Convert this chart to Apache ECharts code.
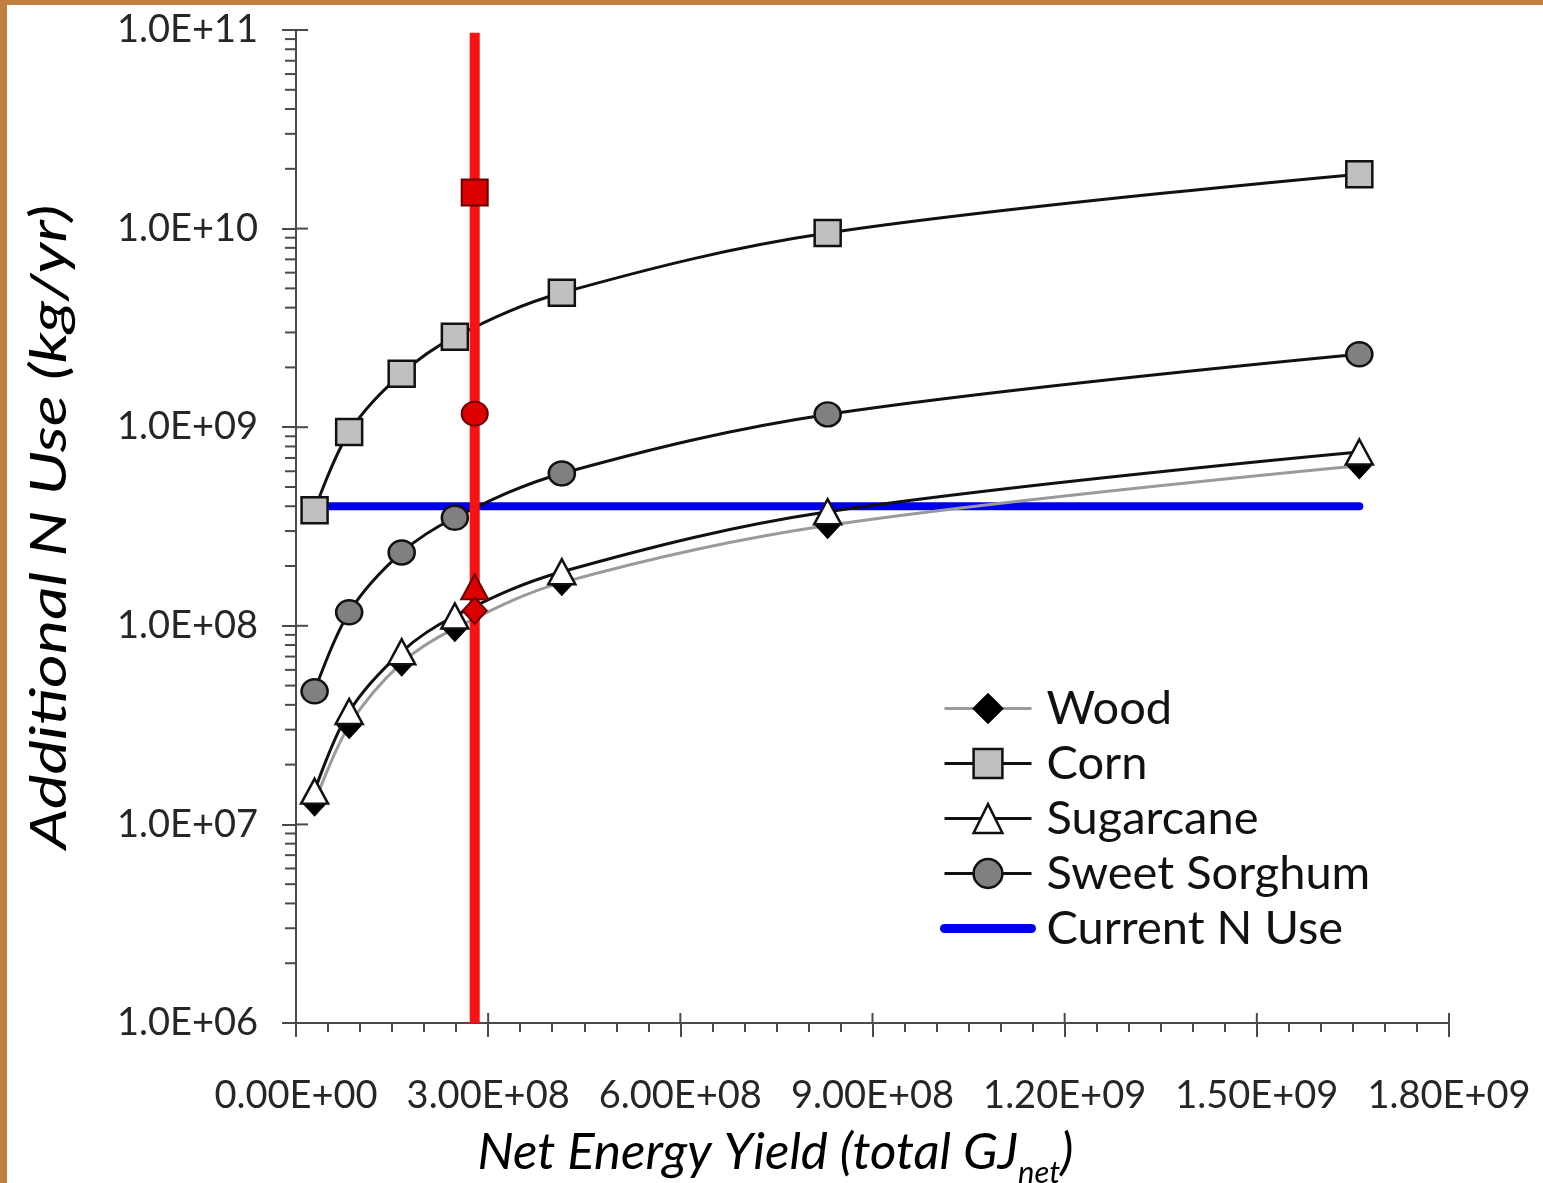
<!DOCTYPE html>
<html>
<head>
<meta charset="utf-8">
<title>Additional N Use vs Net Energy Yield</title>
<script src="https://cdn.jsdelivr.net/npm/echarts@6/dist/echarts.min.js"></script>
<style>
  html, body { margin: 0; padding: 0; background: #ffffff; }
  #wrap { position: relative; width: 1543px; height: 1183px; overflow: hidden; }
  #chart { position: absolute; left: 0; top: 0; width: 1543px; height: 1183px; }
  .edge-top { position: absolute; left: 0; top: 0; width: 1543px; height: 5px; background: #c17f3f; }
  .edge-left { position: absolute; left: 0; top: 0; width: 7px; height: 1183px; background: #c17f3f; }
</style>
</head>
<body>
<div id="wrap">
  <div id="chart"></div>
  <div class="edge-top"></div>
  <div class="edge-left"></div>
</div>
<script>
// Net energy yield (GJ_net) for each scenario point
const netEnergy = [2.9e7, 8.3e7, 1.65e8, 2.48e8, 4.15e8, 8.3e8, 1.66e9];

// Additional nitrogen use (kg/yr) per feedstock
const wood      = [1.28e7, 3.15e7, 6.5e7, 9.7e7, 1.65e8, 3.2e8, 6.4e8];
const corn      = [3.82e8, 9.45e8, 1.86e9, 2.85e9, 4.75e9, 9.5e9, 1.88e10];
const sugarcane = [1.47e7, 3.7e7, 7.4e7, 1.12e8, 1.87e8, 3.75e8, 7.5e8];
const sorghum   = [4.68e7, 1.17e8, 2.34e8, 3.5e8, 5.85e8, 1.16e9, 2.33e9];

// Current national N use (horizontal reference) and its x extent
const currentNUse = 4.0e8;
const currentNRange = [2.9e7, 1.66e9];

// Highlighted scenario (vertical red line) and its feedstock values
const highlightX = 2.79e8;
const highlightSpan = [1e6, 9.7e10];
const highlightWood = 1.19e8;
const highlightCorn = 1.52e10;
const highlightSugarcane = 1.57e8;
const highlightSorghum = 1.17e9;

// Axis tick values
const xTicks = [0, 3e8, 6e8, 9e8, 1.2e9, 1.5e9, 1.8e9];
const yDecades = [1e6, 1e7, 1e8, 1e9, 1e10, 1e11];

const FONT = 'Lato';
const AXIS_COLOR = '#4a4a4a';

function pairs(xs, ys) { return xs.map((x, i) => [x, ys[i]]); }

// Minor log ticks (2..9 within each decade)
const yMinor = [];
yDecades.slice(0, -1).forEach(d => {
  for (let m = 2; m <= 9; m++) yMinor.push(d * m);
});

function fmtExp(v, digits) {
  let s = Number(v).toExponential(digits).toUpperCase();
  return s.replace(/E([+-])(\d)$/, 'E$10$2');
}

const chart = echarts.init(document.getElementById('chart'), null, { renderer: 'canvas' });

const symbolBorder = { borderColor: '#111', borderWidth: 2.5 };

const option = {
  backgroundColor: '#ffffff',
  animation: false,
  grid: { left: 296, right: 94, top: 30, bottom: 160, containLabel: false, outerBoundsMode: 'none' },
  graphic: [
    {
      // vertical axis title, stretched along its length
      type: 'text',
      x: 50,
      y: 527,
      rotation: Math.PI / 2,
      scaleX: 1.3,
      silent: true,
      style: {
        text: 'Additional N Use (kg/yr)',
        fontFamily: FONT,
        fontStyle: 'italic',
        fontSize: 50,
        fill: '#000',
        align: 'center',
        verticalAlign: 'middle'
      }
    }
  ],
  xAxis: {
    type: 'value',
    min: 0,
    max: 1.8e9,
    interval: 3e8,
    splitLine: { show: false },
    axisLine: { lineStyle: { color: AXIS_COLOR, width: 2 } },
    axisTick: { show: true, length: 14, lineStyle: { color: AXIS_COLOR, width: 2 } },
    minorTick: { show: true, splitNumber: 6, length: 9, lineStyle: { color: AXIS_COLOR, width: 2 } },
    axisLabel: {
      margin: 54,
      fontFamily: FONT,
      fontSize: 38,
      color: '#262626',
      formatter: v => fmtExp(v, 2)
    },
    name: '{a|Net Energy Yield (total GJ}{s|net}{a|)}',
    nameLocation: 'middle',
    nameGap: 104,
    nameTextStyle: {
      padding: [0, 194, 0, 0],
      rich: {
        a: { fontFamily: FONT, fontStyle: 'italic', fontSize: 51, color: '#000', lineHeight: 56, verticalAlign: 'top' },
        s: { fontFamily: FONT, fontStyle: 'italic', fontSize: 31, color: '#000', lineHeight: 32, verticalAlign: 'top', padding: [30, 0, 0, 0] }
      }
    }
  },
  yAxis: {
    type: 'log',
    logBase: 10,
    min: 1e6,
    max: 1e11,
    interval: 1,
    splitLine: { show: false },
    axisLine: { lineStyle: { color: AXIS_COLOR, width: 2 } },
    axisTick: { show: true, length: 14, lineStyle: { color: AXIS_COLOR, width: 2 } },
    minorTick: { show: false },
    axisLabel: {
      margin: 38,
      fontFamily: FONT,
      fontSize: 38,
      color: '#262626',
      formatter: v => fmtExp(v, 1)
    }
  },
  legend: {
    orient: 'vertical',
    left: 940,
    top: 685,
    padding: 0,
    itemWidth: 87,
    itemHeight: 36,
    itemGap: 8,
    textStyle: { fontFamily: FONT, fontSize: 47, color: '#111', padding: [0, 0, 0, 10] },
    data: [
      { name: 'Wood', lineStyle: { width: 3, color: '#9a9a9a' }, itemStyle: { borderWidth: 2, borderColor: '#000' } },
      { name: 'Corn', lineStyle: { width: 3, color: '#111' }, itemStyle: { borderWidth: 2.5, borderColor: '#111' } },
      { name: 'Sugarcane', lineStyle: { width: 3, color: '#111' }, itemStyle: { borderWidth: 2.5, borderColor: '#111' } },
      { name: 'Sweet Sorghum', lineStyle: { width: 3, color: '#111' }, itemStyle: { borderWidth: 2.5, borderColor: '#111' } },
      { name: 'Current N Use', lineStyle: { width: 9, color: '#0000ee', cap: 'round' }, itemStyle: { opacity: 0 } }
    ]
  },
  series: [
    {
      name: 'Current N Use',
      type: 'line',
      z: 1,
      symbol: 'none',
      data: [[currentNRange[0], currentNUse], [currentNRange[1], currentNUse]],
      lineStyle: { color: '#0000ee', width: 8, cap: 'round' },
      itemStyle: { color: '#0000ee' }
    },
    {
      name: 'Wood',
      type: 'line',
      z: 2,
      smooth: 0.35,
      symbol: 'diamond',
      symbolSize: [24, 26],
      data: pairs(netEnergy, wood),
      lineStyle: { color: '#9a9a9a', width: 3 },
      itemStyle: { color: '#000', borderColor: '#000', borderWidth: 1 }
    },
    {
      name: 'Corn',
      type: 'line',
      z: 3,
      smooth: 0.35,
      symbol: 'rect',
      symbolSize: 26,
      data: pairs(netEnergy, corn),
      lineStyle: { color: '#111', width: 3 },
      itemStyle: Object.assign({ color: '#c0c0c0' }, symbolBorder)
    },
    {
      name: 'Sugarcane',
      type: 'line',
      z: 3,
      smooth: 0.35,
      symbol: 'triangle',
      symbolSize: [27, 25],
      data: pairs(netEnergy, sugarcane),
      lineStyle: { color: '#111', width: 3 },
      itemStyle: Object.assign({ color: '#ffffff' }, symbolBorder)
    },
    {
      name: 'Sweet Sorghum',
      type: 'line',
      z: 3,
      smooth: 0.35,
      symbol: 'circle',
      symbolSize: [26, 24],
      data: pairs(netEnergy, sorghum),
      lineStyle: { color: '#111', width: 3 },
      itemStyle: Object.assign({ color: '#808080' }, symbolBorder)
    },
    {
      name: 'Highlighted scenario',
      type: 'line',
      z: 5,
      symbol: 'none',
      data: [[highlightX, highlightSpan[0]], [highlightX, highlightSpan[1]]],
      lineStyle: { color: '#f81212', width: 10, cap: 'butt' },
      itemStyle: { color: '#f81212' }
    },
    {
      name: 'Highlighted points',
      type: 'scatter',
      z: 6,
      data: [
        { value: [highlightX, highlightCorn], symbol: 'rect', symbolSize: 26 },
        { value: [highlightX, highlightSorghum], symbol: 'circle', symbolSize: [26, 24] },
        { value: [highlightX, highlightSugarcane], symbol: 'triangle', symbolSize: [27, 25] },
        { value: [highlightX, highlightWood], symbol: 'diamond', symbolSize: [24, 26] }
      ],
      itemStyle: { color: '#dd0000', borderColor: '#6a0000', borderWidth: 2, opacity: 1 }
    },
    {
      // inner halves of the major ticks (ticks cross the axis lines)
      name: 'Axis cross ticks',
      type: 'custom',
      z: 7,
      silent: true,
      clip: false,
      data: xTicks.map(v => ['x', v]).concat(yDecades.map(v => ['y', v])),
      renderItem: function (params, api) {
        const kind = api.value(0);
        const v = api.value(1);
        if (kind === 'x') {
          const p = api.coord([v, 1e6]);
          return { type: 'line', shape: { x1: p[0], y1: p[1], x2: p[0], y2: p[1] - 10 },
                   style: { stroke: AXIS_COLOR, lineWidth: 2 } };
        }
        const p = api.coord([0, v]);
        return { type: 'line', shape: { x1: p[0], y1: p[1], x2: p[0] + 12, y2: p[1] },
                 style: { stroke: AXIS_COLOR, lineWidth: 2 } };
      },
      encode: { x: 1, y: 1 }
    },
    {
      // log minor ticks on the y axis
      name: 'Y minor ticks',
      type: 'custom',
      z: 7,
      silent: true,
      clip: false,
      data: yMinor.map(v => [0, v]),
      renderItem: function (params, api) {
        const p = api.coord([api.value(0), api.value(1)]);
        return { type: 'line', shape: { x1: p[0] - 11, y1: p[1], x2: p[0], y2: p[1] },
                 style: { stroke: AXIS_COLOR, lineWidth: 2 } };
      }
    }
  ]
};

chart.setOption(option);
</script>
</body>
</html>
